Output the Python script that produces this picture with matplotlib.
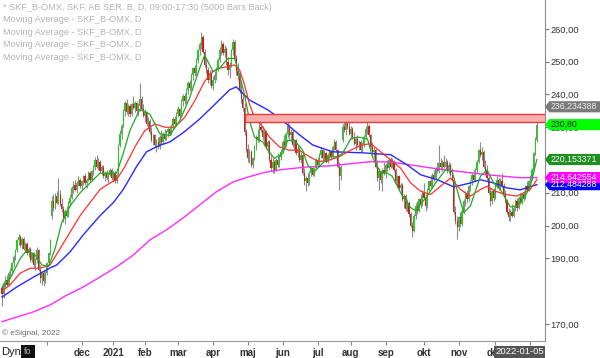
import matplotlib
matplotlib.use('Agg')
import matplotlib.pyplot as plt
import matplotlib.transforms as mtransforms
from matplotlib.patches import Polygon, Rectangle
import numpy as np

plt.rcParams['font.family'] = ['Liberation Sans', 'DejaVu Sans']

# ---- daily OHLC, SKF B (one value per bar) ----
opens = [
    181, 179, 182.5, 183.5, 182, 185.5, 186, 188.5, 190.5, 192.5,
    195.5, 196.5, 194, 196, 193, 194.5, 191.5, 193, 189.5, 191.5,
    188, 189.5, 192.5, 186.5, 184, 185.5, 183, 185.5, 188.5, 191.5,
    203, 207.5, 205.5, 209, 207, 209.5, 206.5, 205, 202, 204.5,
    203, 207, 208.5, 211.5, 212.5, 211, 213, 214, 212, 213.5,
    215, 213, 214, 216, 214, 216.5, 218, 220, 218, 219.5,
    216.5, 218, 215, 216, 214.5, 215.5, 217, 214.5, 216, 213.5,
    216, 224.5, 228, 230.5, 235, 237.5, 234.5, 236.5, 234, 237,
    236, 237.5, 235, 236.5, 238.5, 235.5, 233.5, 234.5, 231, 232,
    228.5, 226, 227.5, 224.5, 225.5, 224, 227, 225.5, 228, 226.5,
    228.5, 229.5, 228, 230.5, 232.5, 231, 234, 235.5, 233.5, 238,
    239.5, 238, 241.5, 243.5, 242, 246, 248, 246.5, 250.5, 253.5,
    255.5, 257.5, 253, 249, 247.5, 244.5, 246.5, 242.5, 244.5, 246,
    248, 250.5, 253.5, 255.5, 252.5, 254, 250, 247.5, 249, 253.5,
    256, 251, 247, 245.5, 241.5, 238.5, 236, 228.5, 223.5, 220.5,
    222.5, 218.5, 220.5, 224, 227, 226, 230, 229, 227, 228.5,
    224, 225.5, 220, 217.5, 219.5, 217, 220, 218.5, 221, 222.5,
    225.5, 224.5, 228, 230.5, 227.5, 228.5, 224.5, 226, 222, 223.5,
    220, 221.5, 216, 213.5, 214.5, 213, 216, 217.5, 215.5, 217.5,
    220, 218.5, 221.5, 223, 220.5, 222, 219.5, 221.5, 222.5, 221,
    224, 225.5, 223, 218, 215, 226, 230, 229, 232, 230,
    228, 229.5, 227, 225, 226.5, 224.5, 225.5, 223, 225, 227,
    229.5, 230.5, 227.5, 224, 222.5, 223, 218, 214.5, 216.5, 214,
    217, 216, 218.5, 217.5, 220, 218, 219.5, 217, 213.5, 215,
    211.5, 212.5, 208, 209, 205, 207, 203.5, 200, 198.5, 203,
    206, 204.5, 208, 206.5, 210, 208.5, 206, 211, 213.5, 212,
    215.5, 214.5, 217.5, 216.5, 219, 218, 219.5, 218, 219.5, 216.5,
    218.5, 215.5, 214, 204, 201.5, 199.5, 202.5, 200.5, 204.5, 207.5,
    209.5, 208, 212, 213.5, 215.5, 214, 217, 219.5, 223, 221.5,
    222.5, 218, 216.5, 214.5, 210, 207.5, 210.5, 208.5, 212.5, 214,
    211.5, 213.5, 212, 209.5, 207.5, 204, 202.5, 204, 203, 205.5,
    207.5, 205.5, 208.5, 207, 209.5, 208.5, 212, 211, 213.5, 214.5,
    217, 222, 226,
]
highs = [
    182, 183, 184.5, 185, 186, 187, 189, 191, 193, 196,
    197.5, 197, 196.5, 196.5, 195, 195, 193.5, 193.5, 192, 192,
    190, 193.5, 193, 188, 186, 186.5, 186, 189, 192, 196,
    209, 209.5, 210, 210.5, 214.5, 211, 208.5, 206, 205, 206,
    207.5, 209.5, 212, 213.5, 214, 213.5, 215, 214.5, 214, 215.5,
    216, 214.5, 216.5, 216.5, 217, 218.5, 221, 221.5, 220.5, 220,
    218.5, 218.5, 216.5, 217, 216, 217.5, 217.5, 216.5, 216.5, 216,
    225, 229, 231, 235.5, 238, 238.5, 237, 237, 237.5, 239.5,
    238, 238, 237.5, 243.5, 239.5, 237, 235.5, 235, 233, 232.5,
    230, 228, 228, 226.5, 227, 227.5, 229, 228.5, 229.5, 229,
    230, 230.5, 231, 233, 233.5, 234.5, 236.5, 236, 238.5, 240,
    240.5, 242, 244, 244.5, 246.5, 248.5, 249, 251, 254, 256,
    259, 258, 254, 251, 248.5, 247.5, 247, 245.5, 247, 248.5,
    251, 254.5, 256.5, 256, 255, 254.5, 251.5, 250, 254, 257,
    256.5, 252, 249.5, 246.5, 243.5, 240, 237.5, 229.5, 225, 223.5,
    223, 221, 224.5, 227.5, 229.5, 231, 233, 230.5, 229, 229,
    226, 226, 221.5, 220.5, 220, 220.5, 222, 221.5, 223.5, 226,
    227.5, 228.5, 231.5, 231, 229.5, 229, 226.5, 226.5, 224.5, 224,
    222.5, 222, 217.5, 215, 216, 216.5, 218, 218, 218, 220.5,
    221, 222, 224, 223.5, 223, 222.5, 222, 223.5, 223, 224.5,
    226.5, 226, 223.5, 219.5, 218.5, 231, 233.5, 232.5, 234, 231.5,
    230.5, 230, 228.5, 227, 227.5, 226, 226, 225.5, 227.5, 230.5,
    231.5, 231, 228, 225.5, 224, 223.5, 220, 217.5, 217, 217.5,
    219.5, 219, 220, 220.5, 221, 220.5, 220, 217.5, 215.5, 215.5,
    213, 213, 209.5, 209.5, 208, 207.5, 204, 201, 203.5, 207,
    207.5, 208.5, 209.5, 211, 213, 209.5, 211.5, 214, 215.5, 216,
    217, 218, 219.5, 224.5, 220.5, 220, 221.5, 220.5, 220, 219.5,
    219, 217.5, 214.5, 206, 203, 203, 204, 205, 208, 210.5,
    211, 212.5, 214, 216, 217, 217.5, 220, 223.5, 225.5, 224,
    223, 220, 218.5, 215, 211.5, 211, 211.5, 213, 215, 214.5,
    214.5, 216, 213, 211, 208, 205.5, 205, 206.5, 206, 208,
    208.5, 209, 210, 210, 210.5, 212.5, 213.5, 214, 215.5, 217.5,
    222.5, 227, 231.5,
]
lows = [
    175.5, 178, 181, 181.5, 181.5, 184, 185, 187.5, 189.5, 192,
    194, 193.5, 193, 192.5, 192, 191, 190.5, 189, 189, 187.5,
    186.5, 188.5, 186, 182.5, 182, 181.5, 182.5, 185, 188, 191,
    202, 204.5, 205, 206.5, 206.5, 206, 204, 201, 200.5, 202.5,
    202.5, 206, 208, 210, 210.5, 210, 212, 211.5, 211, 212.5,
    212.5, 211.5, 213.5, 213.5, 213.5, 215.5, 217, 217.5, 217, 216,
    215.5, 214.5, 213.5, 214, 213, 215, 214, 213.5, 213, 213,
    215.5, 224, 226.5, 230, 233.5, 234, 233.5, 233, 233.5, 235.5,
    234.5, 234, 233.5, 235, 235, 233, 231.5, 230.5, 229.5, 228,
    225.5, 224.5, 224, 222.5, 223.5, 223.5, 225, 225, 226, 226,
    227, 227.5, 227.5, 229.5, 230, 230.5, 233, 232.5, 233, 236.5,
    237, 237.5, 240, 241, 241.5, 244.5, 245.5, 246, 249.5, 252,
    254, 252.5, 248.5, 246.5, 243.5, 243, 242, 241.5, 243.5, 244.5,
    247, 250, 252, 252, 251.5, 249, 246, 245, 248.5, 252,
    250.5, 246, 244.5, 240.5, 237.5, 235, 227.5, 222.5, 219.5, 219,
    218, 217.5, 220, 223, 225.5, 225.5, 228.5, 226, 224.5, 223.5,
    222, 219.5, 216.5, 216, 216, 216.5, 218, 218, 220, 222,
    223.5, 224, 227, 226.5, 225.5, 224, 223, 221.5, 221, 219.5,
    219, 215.5, 212.5, 210.5, 212, 212.5, 215, 215, 215, 217,
    218, 218, 220.5, 219.5, 220, 219, 219, 220, 220, 220.5,
    223, 222.5, 217.5, 211, 214, 225.5, 228.5, 227.5, 229.5, 227.5,
    226.5, 226.5, 224.5, 223, 224, 223, 222.5, 222.5, 224, 226.5,
    228, 227, 223.5, 221.5, 220.5, 217.5, 213.5, 211, 213, 210.5,
    215.5, 214.5, 216.5, 217, 217.5, 217.5, 216.5, 213, 212, 211,
    209.5, 207.5, 205.5, 204.5, 204, 202.5, 199.5, 196.5, 198, 202,
    203.5, 204, 205.5, 206, 208, 204.5, 205.5, 210.5, 211.5, 211.5,
    213.5, 214, 216, 216, 217, 216.5, 217.5, 217, 216, 216,
    215, 213.5, 203.5, 200.5, 196, 198.5, 199.5, 200, 203.5, 206,
    207, 207.5, 210.5, 212.5, 213.5, 213.5, 216, 219, 221, 220,
    217.5, 215.5, 214, 209.5, 206, 206.5, 207.5, 208, 211.5, 211,
    211, 211.5, 209, 207, 203.5, 201.5, 201.5, 202.5, 202.5, 204.5,
    204.5, 205, 206.5, 206.5, 207.5, 208, 210.5, 210.5, 212.5, 214,
    216.5, 221.5, 225.5,
]
closes = [
    179, 182.5, 183.5, 182, 185.5, 186, 188.5, 190.5, 192.5, 195.5,
    196.5, 194, 196, 193, 194.5, 191.5, 193, 189.5, 191.5, 188,
    189.5, 192.5, 186.5, 184, 185.5, 183, 185.5, 188.5, 191.5, 195.5,
    207.5, 205.5, 209, 207, 209.5, 206.5, 205, 202, 204.5, 203,
    207, 208.5, 211.5, 212.5, 211, 213, 214, 212, 213.5, 215,
    213, 214, 216, 214, 216.5, 218, 220, 218, 219.5, 216.5,
    218, 215, 216, 214.5, 215.5, 217, 214.5, 216, 213.5, 215.5,
    224.5, 228, 230.5, 235, 237.5, 234.5, 236.5, 234, 237, 236,
    237.5, 235, 236.5, 238.5, 235.5, 233.5, 234.5, 231, 232, 228.5,
    226, 227.5, 224.5, 225.5, 224, 227, 225.5, 228, 226.5, 228.5,
    229.5, 228, 230.5, 232.5, 231, 234, 235.5, 233.5, 238, 239.5,
    238, 241.5, 243.5, 242, 246, 248, 246.5, 250.5, 253.5, 255.5,
    257.5, 253, 249, 247.5, 244.5, 246.5, 242.5, 244.5, 246, 248,
    250.5, 253.5, 255.5, 252.5, 254, 250, 247.5, 249, 253.5, 256,
    251, 247, 245.5, 241.5, 238.5, 236, 228.5, 223.5, 220.5, 222.5,
    218.5, 220.5, 224, 227, 226, 230, 229, 227, 228.5, 224,
    225.5, 220, 217.5, 219.5, 217, 220, 218.5, 221, 222.5, 225.5,
    224.5, 228, 230.5, 227.5, 228.5, 224.5, 226, 222, 223.5, 220,
    221.5, 216, 213.5, 214.5, 213, 216, 217.5, 215.5, 217.5, 220,
    218.5, 221.5, 223, 220.5, 222, 219.5, 221.5, 222.5, 221, 224,
    225.5, 223, 218, 215, 218, 230, 229, 232, 230, 228,
    229.5, 227, 225, 226.5, 224.5, 225.5, 223, 225, 227, 229.5,
    230.5, 227.5, 224, 222.5, 223, 218, 214.5, 216.5, 214, 217,
    216, 218.5, 217.5, 220, 218, 219.5, 217, 213.5, 215, 211.5,
    212.5, 208, 209, 205, 207, 203.5, 200, 198.5, 203, 206,
    204.5, 208, 206.5, 210, 208.5, 206, 211, 213.5, 212, 215.5,
    214.5, 217.5, 216.5, 219, 218, 219.5, 218, 219.5, 216.5, 218.5,
    215.5, 214, 204, 201.5, 199.5, 202.5, 200.5, 204.5, 207.5, 209.5,
    208, 212, 213.5, 215.5, 214, 217, 219.5, 223, 221.5, 222.5,
    218, 216.5, 214.5, 210, 207.5, 210.5, 208.5, 212.5, 214, 211.5,
    213.5, 212, 209.5, 207.5, 204, 202.5, 204, 203, 205.5, 207.5,
    205.5, 208.5, 207, 209.5, 208.5, 212, 211, 213.5, 214.5, 217,
    222, 226, 230.8,
]

# ---- moving averages, sampled at bar positions ----
green_idx = [0, 5, 11, 15, 20, 24, 28, 32, 36, 41, 47, 53, 59, 65, 69, 73, 77, 83, 89, 95,
             101, 107, 113, 119, 122, 127, 131, 136, 140, 143, 146, 149, 152, 157, 160, 164,
             169, 172, 176, 181, 184, 188, 193, 197, 202, 205, 210, 214, 220, 223, 228, 232,
             235, 241, 246, 249, 252, 256, 261, 267, 271, 275, 278, 282, 288, 292, 296, 300,
             306, 310, 315, 318, 322]
green_val = [181, 184, 190, 192.5, 191, 188, 187.5, 193, 201, 206, 210, 213, 216, 216, 216,
             222, 229, 235.5, 234, 228, 227.5, 232, 239, 248, 252, 247, 248, 251, 251, 246,
             240, 232, 227, 225.5, 223, 220.5, 222, 226, 226, 223, 218.5, 216.5, 219, 221,
             221, 222, 226.5, 227, 226.5, 221, 216, 216, 215, 209, 205.5, 204.5, 206.5, 209,
             213, 217, 216.5, 209, 204, 206, 215, 217, 213, 211, 205.7, 206, 209, 212, 220.153371]

red_idx = [0, 5, 11, 17, 23, 29, 35, 41, 47, 53, 59, 65, 69, 74, 80, 86, 92, 98, 104, 110,
           116, 122, 127, 131, 136, 140, 143, 146, 149, 152, 157, 161, 167, 173, 179, 185,
           191, 197, 203, 210, 216, 222, 228, 234, 240, 246, 252, 258, 264, 270, 276, 282,
           288, 292, 297, 303, 310, 318, 322]
red_val = [180, 182, 185.5, 187, 187, 188, 193, 198, 203, 207, 211, 213, 214, 218, 224, 229,
           231, 230, 230, 233, 238, 244, 247, 248, 248.5, 249, 247.5, 243, 237, 233, 230, 227,
           224, 223, 223, 221, 219.5, 220, 221, 223, 224.5, 225, 222.5, 220, 217.5, 213,
           210.5, 209.5, 212, 214.5, 211, 209, 211, 212, 210.5, 209.5, 209, 211, 214]

blue_idx = [0, 9, 19, 29, 33, 41, 49, 59, 67, 73, 81, 87, 95, 101, 109, 119, 129, 137, 141,
            149, 160, 169, 179, 187, 199, 217, 234, 244, 252, 262, 272, 282, 288, 296, 304,
            312, 322]
blue_val = [178.2, 181.3, 184.3, 187.1, 188, 192, 197.2, 203, 207, 211, 218, 222.5, 224.5,
            225.5, 228.3, 232.5, 237.4, 241.4, 242.3, 238.3, 235.3, 232, 227.7, 224.6, 222.5,
            222.2, 221.6, 218.5, 215.5, 214, 211.8, 213, 214, 213, 211.5, 210.9, 212.484288]

magenta_idx = [0, 19, 29, 39, 49, 59, 69, 79, 89, 99, 109, 119, 129, 139, 148, 158, 167,
               184, 197, 222, 234, 258, 272, 292, 312, 322]
magenta_val = [170.7, 173.7, 175.8, 178.8, 181.3, 184.3, 187.4, 191, 195.6, 198.7, 202.3,
               206.3, 210.3, 213.3, 214.8, 216.2, 217, 217.9, 218.2, 219.5, 219.4, 217.6,
               216.7, 215.5, 214.6, 214.642554]

# month starts (bar index) and their labels
month_idx = [27, 48, 67, 86, 106, 127, 148, 169, 190, 210, 231, 254, 275, 297, 318]
month_lbl = ['', 'dec', '2021', 'feb', 'mar', 'apr', 'maj', 'jun', 'jul', 'aug', 'sep',
             'okt', 'nov', 'dec', '']

# resistance zone and price-scale flags
zone_start, zone_low, zone_high = 146, 231.5, 234.1
flag_vals = [236.234388, 230.80, 220.153371, 212.484288, 214.642554]
flag_text = ['236,234388', '230,80', '220,153371', '212,484288', '214,642554']
flag_face = ['#7a7a7a', '#00ff00', '#1f8f1f', '#0000ff', '#ff00ff']
flag_font = ['#eeeeee', '#202020', 'white', 'white', 'white']

# ==========================================
fig = plt.figure(figsize=(6, 3.58), dpi=100)
ax = fig.add_axes([0, 17 / 358, 545 / 600, 341 / 358])
ax.set_xlim(-1.2, 326.9)
ax.set_ylim(164.8, 268.8)

o = np.array(opens)
h = np.array(highs)
l = np.array(lows)
c = np.array(closes)
x = np.arange(len(c))
up = c >= o

ax.vlines(x, l, h, color='#8c8c8c', lw=0.8, zorder=2)
body = np.where(np.abs(c - o) < 0.4, 0.4, c - o)
ax.bar(x[up], body[up], bottom=o[up], width=0.75, color='#1fcc1f', lw=0, zorder=3)
ax.bar(x[~up], body[~up], bottom=o[~up], width=0.75, color='#d41c1c', lw=0, zorder=3)

ax.plot(magenta_idx, magenta_val, color='#ff2bff', lw=1.0, zorder=4)
ax.plot(blue_idx, blue_val, color='#2828ff', lw=1.0, zorder=4)
ax.plot(red_idx, red_val, color='#ff3030', lw=0.9, zorder=4)
ax.plot(green_idx, green_val, color='#22a822', lw=0.9, zorder=4)

# red resistance box
ax.add_patch(Rectangle((zone_start, zone_low), 400, zone_high - zone_low,
                       facecolor='#f9aeae', edgecolor='#e83a3a', lw=1.0, zorder=5))

# axes styling
for s in ['top', 'left']:
    ax.spines[s].set_visible(False)
ax.spines['right'].set_color('#8a8a8a')
ax.spines['bottom'].set_color('#9a9a9a')
ax.yaxis.tick_right()
yt = [170, 190, 200, 210, 220, 230, 240, 250, 260]
ax.set_yticks(yt)
ax.set_yticklabels([f'{v},00' for v in yt])
ax.tick_params(axis='y', length=3, pad=1, labelsize=6.7, colors='#333333')
ax.tick_params(axis='y', color='#777777')
ax.set_xticks(month_idx)
ax.set_xticklabels(month_lbl, fontweight='bold')
ax.tick_params(axis='x', length=3, pad=2, labelsize=7, colors='#333333')
ax.tick_params(axis='x', color='#888888')

# price flags on the right scale
tr = mtransforms.blended_transform_factory(ax.transAxes, ax.transData)
hh = 1.7
for v, t, fc, tc in zip(flag_vals, flag_text, flag_face, flag_font):
    poly = Polygon([[1.0, v], [1.008, v + hh], [1.102, v + hh], [1.102, v - hh], [1.008, v - hh]],
                   closed=True, transform=tr, facecolor=fc, edgecolor='none',
                   clip_on=False, zorder=10)
    ax.add_patch(poly)
    ax.text(1.011, v, t, transform=tr, ha='left', va='center', fontsize=6.3,
            color=tc, clip_on=False, zorder=11)

# header texts
fig.text(3 / 600, 1 - 7 / 358, '* SKF_B-OMX, SKF, AB SER. B, D, 09:00-17:30 (5000 Bars Back)',
         fontsize=6.6, color='#b4b4b4', va='center')
for k in range(4):
    fig.text(3 / 600, 1 - (20 + 12.4 * k) / 358, 'Moving Average - SKF_B-OMX, D',
             fontsize=6.6, color='#b4b4b4', va='center')
fig.text(2 / 600, 1 - 333 / 358, '\u00a9 eSignal, 2022', fontsize=5.9, color='#6a6a6a',
         va='center')

# bottom-left controls and cursor date
fig.text(1 / 600, 6 / 358, 'Dyn', fontsize=8, color='#222222', va='center')
fig.add_artist(Rectangle((21 / 600, 0), 14 / 600, 13 / 358, transform=fig.transFigure,
                         facecolor='#111111', edgecolor='none'))
fig.text(28 / 600, 6 / 358, 'fo', fontsize=6.5, color='#bbbbbb', va='center', ha='center')
fig.add_artist(Rectangle((494 / 600, 0), 51 / 600, 12 / 358, transform=fig.transFigure,
                         facecolor='#555555', edgecolor='none', zorder=20))
fig.text(519.5 / 600, 6 / 358, '2022-01-05', fontsize=6.8, color='white', va='center',
         ha='center', zorder=21)

fig.savefig('out.png', dpi=100)
